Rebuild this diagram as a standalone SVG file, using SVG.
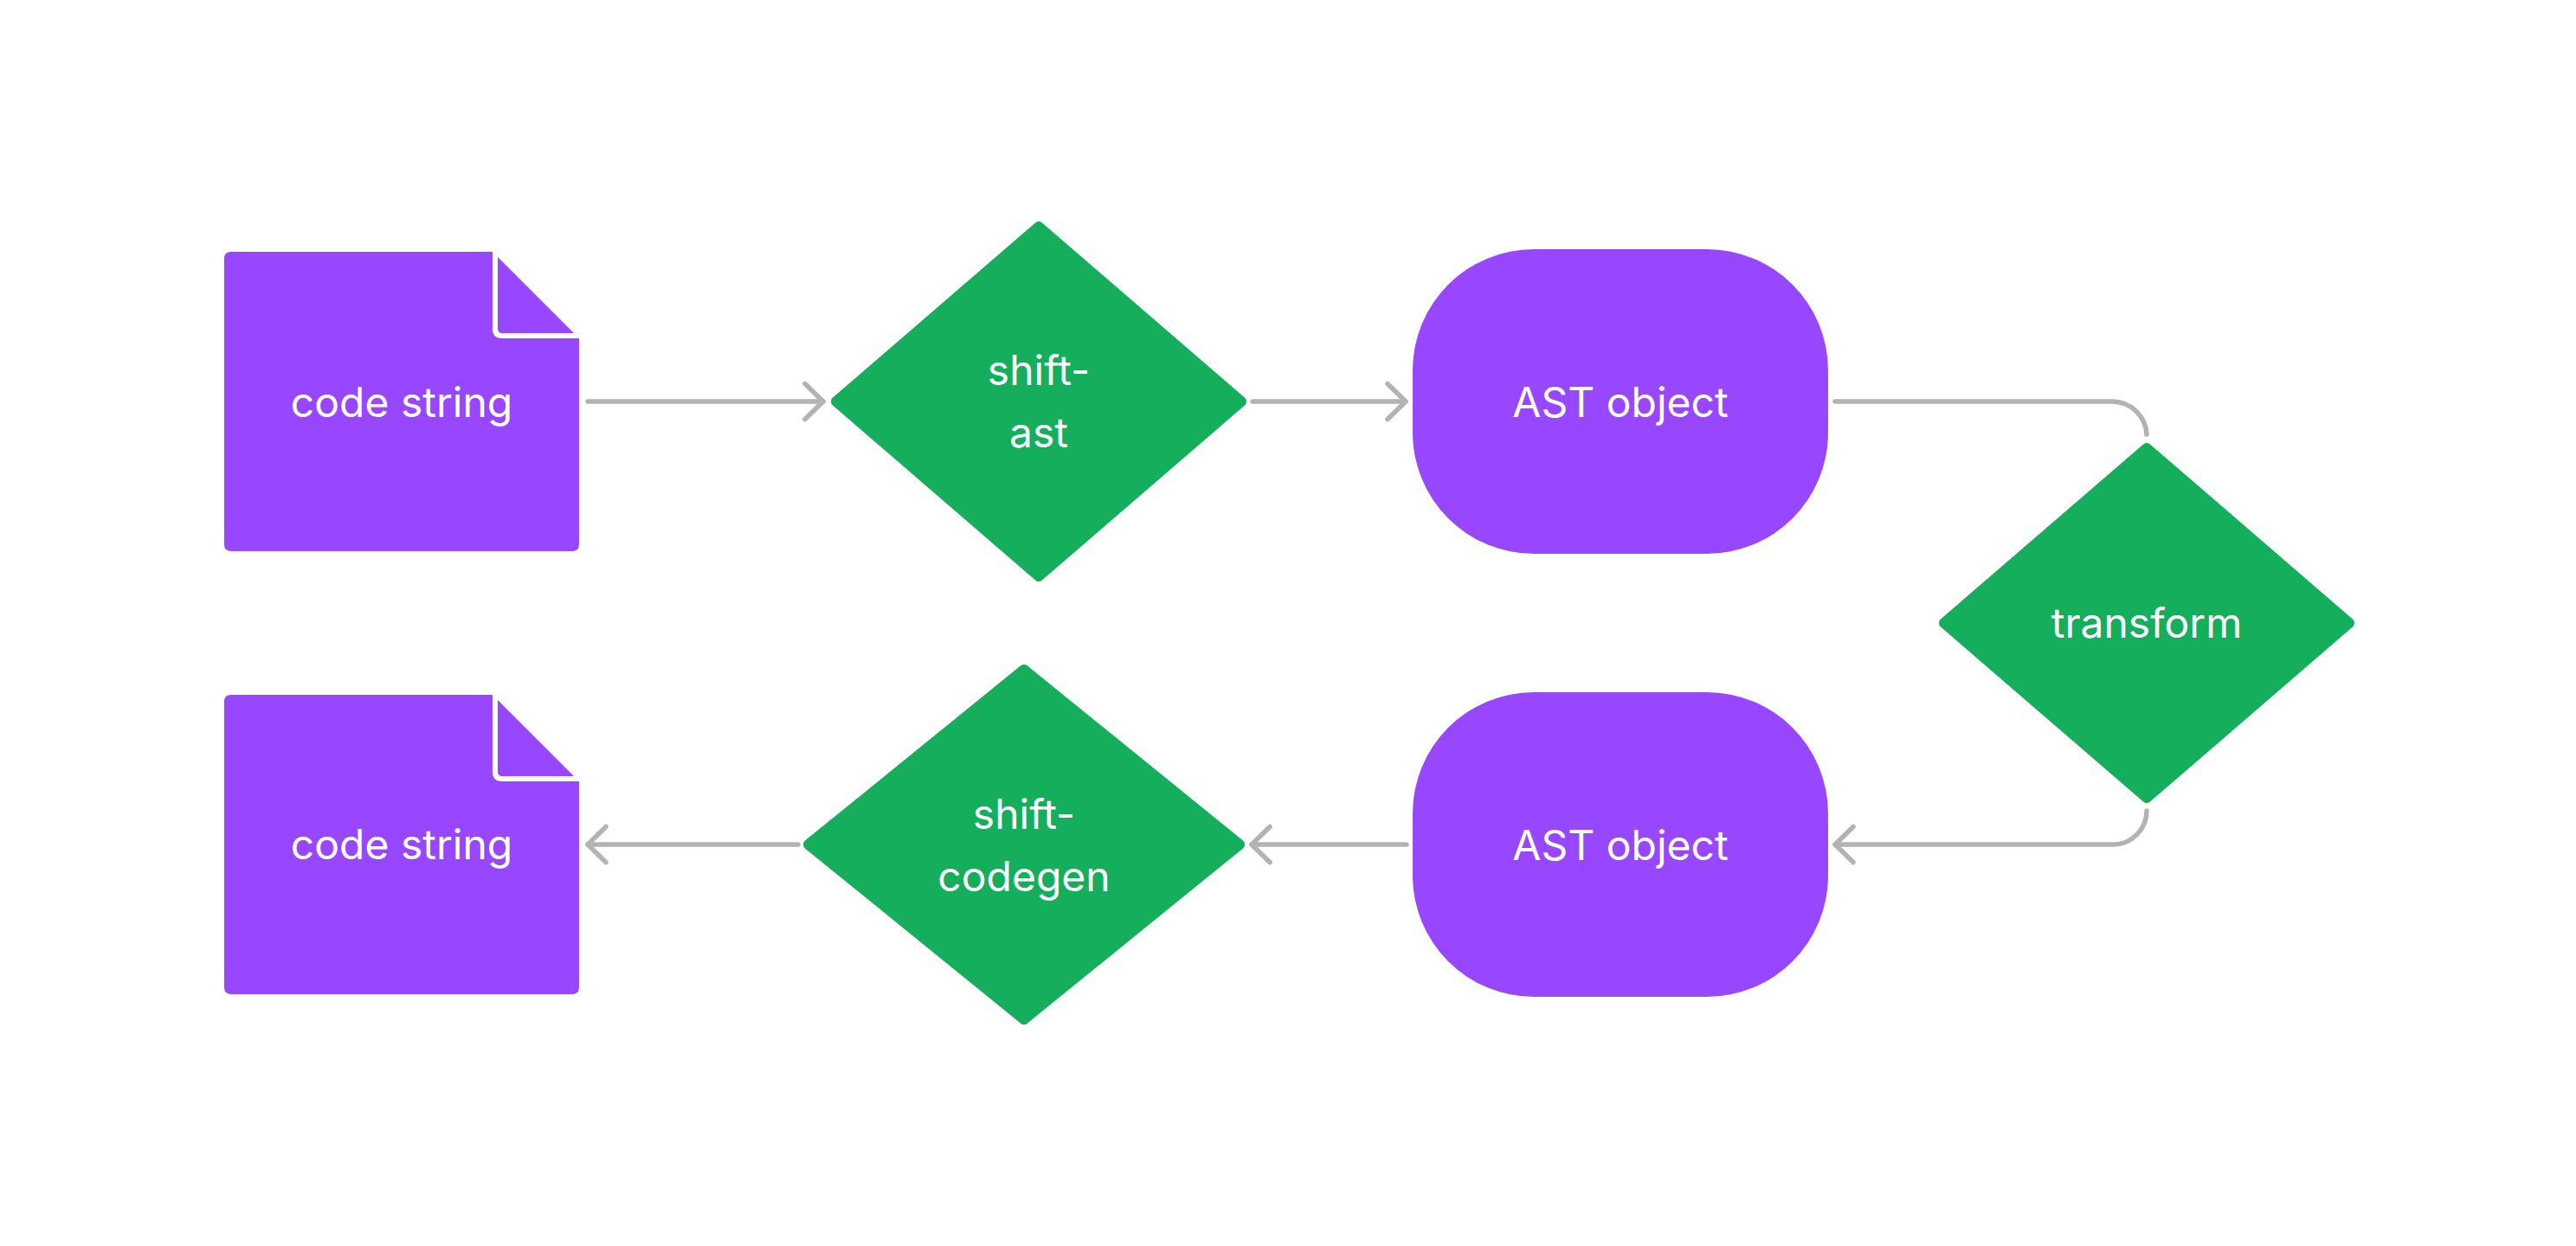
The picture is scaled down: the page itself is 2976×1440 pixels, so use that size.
<svg xmlns="http://www.w3.org/2000/svg" width="2976" height="1440" viewBox="0 0 2976 1440">
  <style>
    .doc { fill: #9747FF; }
    .fold { fill: none; stroke: #FFFFFF; stroke-width: 6; }
    .term { fill: #9747FF; }
    .dec { fill: #14AE5C; stroke: #14AE5C; stroke-width: 12; stroke-linejoin: round; }
    .lbl { font-family: Inter, "Noto Sans", "Liberation Sans", sans-serif; font-size: 48px; fill: #FFFFFF; text-anchor: middle; }
    .edge { fill: none; stroke: #B3B3B3; stroke-width: 5.5; stroke-linecap: round; stroke-linejoin: round; }
  </style>
  <defs>
    <marker id="arrow" markerUnits="userSpaceOnUse" markerWidth="40" markerHeight="50" viewBox="0 0 40 50" refX="30" refY="25" orient="auto" overflow="visible">
      <path d="M9,4.5 L30,25 L9,45.5" fill="none" stroke="#B3B3B3" stroke-width="5.5" stroke-linecap="round" stroke-linejoin="round"/>
    </marker>
  </defs>
  <rect width="2976" height="1440" fill="#FFFFFF"/>

  <g id="connectors">
    <path class="edge" d="M679,464 H951" marker-end="url(#arrow)"/>
    <path class="edge" d="M1447,464 H1624" marker-end="url(#arrow)"/>
    <path class="edge" d="M2120,464 H2440 A40,40 0 0 1 2480,502"/>
    <path class="edge" d="M2480,937 A39,39 0 0 1 2441,976 H2120" marker-end="url(#arrow)"/>
    <path class="edge" d="M1625,976 H1446" marker-end="url(#arrow)"/>
    <path class="edge" d="M922,976 H679" marker-end="url(#arrow)"/>
  </g>

  <g id="code-string-in">
    <path class="doc" d="M267,291 H569 L669,391 V629 Q669,637 661,637 H267 Q259,637 259,629 V299 Q259,291 267,291 Z"/>
    <path class="fold" d="M572,289 V380 Q572,388 580,388 H672"/>
    <text class="lbl" x="464" y="482">code string</text>
  </g>

  <g id="shift-ast">
    <polygon class="dec" points="1200,262 1434,464 1200,666 966,464"/>
    <text class="lbl" x="1200" y="445">shift-</text>
    <text class="lbl" x="1200" y="517">ast</text>
  </g>

  <g id="ast-object-1">
    <rect class="term" x="1632" y="288" width="480" height="352" rx="140" ry="140"/>
    <text class="lbl" x="1872" y="482">AST object</text>
  </g>

  <g id="transform">
    <polygon class="dec" points="2480,518 2714,720 2480,922 2246,720"/>
    <text class="lbl" x="2480" y="737">transform</text>
  </g>

  <g id="ast-object-2">
    <rect class="term" x="1632" y="800" width="480" height="352" rx="140" ry="140"/>
    <text class="lbl" x="1872" y="994">AST object</text>
  </g>

  <g id="shift-codegen">
    <polygon class="dec" points="1183,774 1432,976 1183,1178 934,976"/>
    <text class="lbl" x="1183" y="958">shift-</text>
    <text class="lbl" x="1183" y="1030">codegen</text>
  </g>

  <g id="code-string-out">
    <path class="doc" d="M267,803 H569 L669,903 V1141 Q669,1149 661,1149 H267 Q259,1149 259,1141 V811 Q259,803 267,803 Z"/>
    <path class="fold" d="M572,801 V892 Q572,900 580,900 H672"/>
    <text class="lbl" x="464" y="993">code string</text>
  </g>
</svg>
